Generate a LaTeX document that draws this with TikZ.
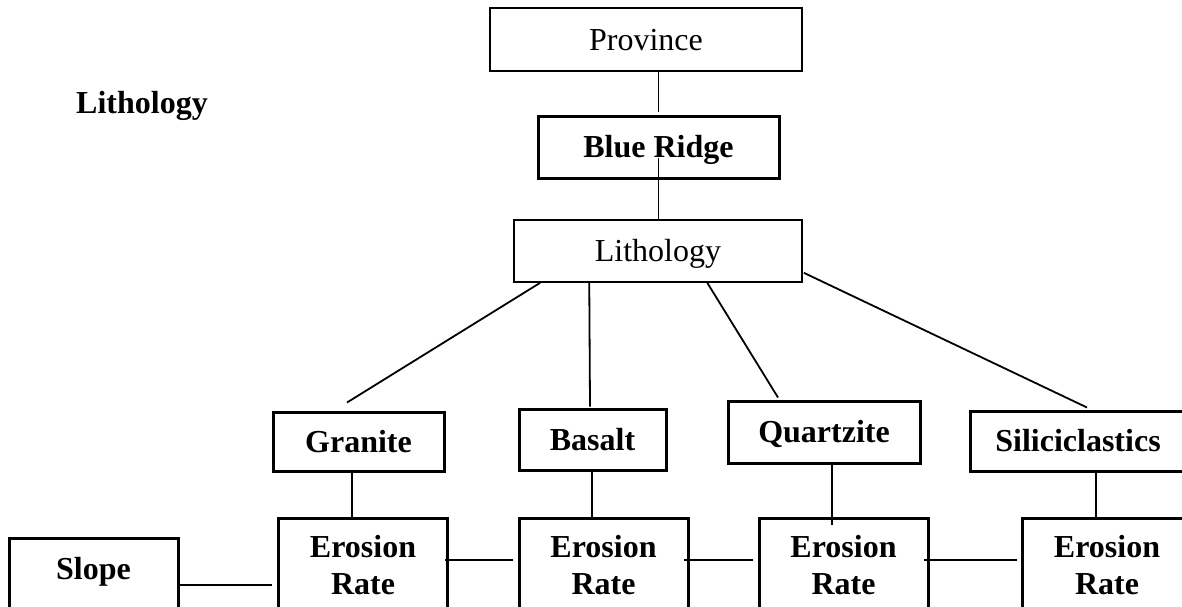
\documentclass[tikz,border=0pt]{standalone}
\usepackage{fontspec}
\setmainfont{Liberation Serif}
\usetikzlibrary{calc}
\begin{document}
\begin{tikzpicture}[x=1pt,y=-1pt,
  thinbox/.style={draw,line width=2pt,inner sep=0pt,font=\fontsize{32}{37}\selectfont,text height=21pt,text depth=0pt},
  boldbox/.style={draw,line width=3pt,inner sep=0pt,font=\fontsize{32}{37}\selectfont\bfseries,text height=21pt,text depth=0pt},
  tallbox/.style={draw,line width=3pt,anchor=north,inner xsep=0pt,font=\fontsize{32}{37}\selectfont\bfseries,align=center,text depth=120pt,minimum width=169pt},
  lbl/.style={inner sep=0pt,font=\fontsize{32}{37}\selectfont\bfseries,text height=21pt,text depth=0pt},
  link/.style={line width=1.8pt}]
\useasboundingbox (0,0) rectangle (1182,606);
\fill[white] (0,0) rectangle (1182,606);
\clip (0,0) rectangle (1182,606);

\node[thinbox,minimum width=312pt,minimum height=63pt] (prov) at (646,39.5) {Province};
\node[boldbox,minimum width=241pt,minimum height=62pt] (br) at (658.5,147) {Blue Ridge};
\node[thinbox,line width=1.5pt,minimum width=288pt,minimum height=62pt] (lith) at (658,251) {Lithology};
\node[lbl] (title) at (142,102.5) {Lithology};

\node[boldbox,minimum width=171pt,minimum height=59pt] (gran) at (358.5,441.5) {Granite};
\node[boldbox,minimum width=147pt,minimum height=61pt] (bas) at (592.5,439.5) {Basalt};
\node[boldbox,minimum width=192pt,minimum height=62pt] (qz) at (824,432) {Quartzite};
\node[boldbox,minimum width=216pt,minimum height=60pt] (sil) at (1078,441) {Siliciclastics};

\node[tallbox,inner ysep=19pt,text height=22pt] (slope) at (93.5,537) {Slope};
\node[tallbox,inner ysep=17.5pt,text height=59pt] (e1) at (363,516.5) {Erosion\\Rate};
\node[tallbox,inner ysep=17.5pt,text height=59pt] (e2) at (603.5,516.5) {Erosion\\Rate};
\node[tallbox,inner ysep=17.5pt,text height=59pt] (e3) at (843.5,516.5) {Erosion\\Rate};
\node[tallbox,inner ysep=17.5pt,text height=59pt] (e4) at (1107,516.5) {Erosion\\Rate};

% vertical trunk
\coordinate (b0) at ($(br.north)+(0,-3)$);
\coordinate (b1) at ($(br.center)+(0,11)$);
\draw[link] (b0 |- prov.south) -- (b0);
\draw[link] (b1) -- (b1 |- lith.north);

% lithology to rock types
\draw[link] ($(lith.south west)+(27,0)$) -- ($(gran.north)+(-11.5,-8)$);
\draw[link] ($(lith.south west)+(76,0)$) -- ($(bas.north)+(-2.5,-1)$);
\draw[link] ($(lith.south west)+(194,0)$) -- ($(qz.north)+(-46,-2)$);
\draw[link] ($(lith.south east)+(1,-10)$) -- ($(sil.north)+(9,-2)$);

% rock types to erosion rates
\coordinate (g1) at ($(gran.south)+(-6.5,0)$);
\coordinate (g2) at ($(bas.south)+(-0.5,0)$);
\coordinate (g3) at ($(qz.south)+(8,0)$);
\coordinate (g3e) at ($(e3.north)+(0,8.5)$);
\coordinate (g4) at ($(sil.south)+(18,0)$);
\draw[link] (g1) -- (g1 |- e1.north);
\draw[link] (g2) -- (g2 |- e2.north);
\draw[link] (g3) -- (g3 |- g3e);
\draw[link] (g4) -- (g4 |- e4.north);

% horizontal links
\draw[link] ($(slope.north east)+(0,48)$) -- ($(e1.north west)+(-5,68.5)$);
\draw[link] ($(e1.north east)+(-4,43.5)$) -- ($(e2.north west)+(-5,43.5)$);
\draw[link] ($(e2.north east)+(-6,43.5)$) -- ($(e3.north west)+(-5,43.5)$);
\draw[link] ($(e3.north east)+(-6,43.5)$) -- ($(e4.north west)+(-4,43.5)$);
\end{tikzpicture}
\end{document}
